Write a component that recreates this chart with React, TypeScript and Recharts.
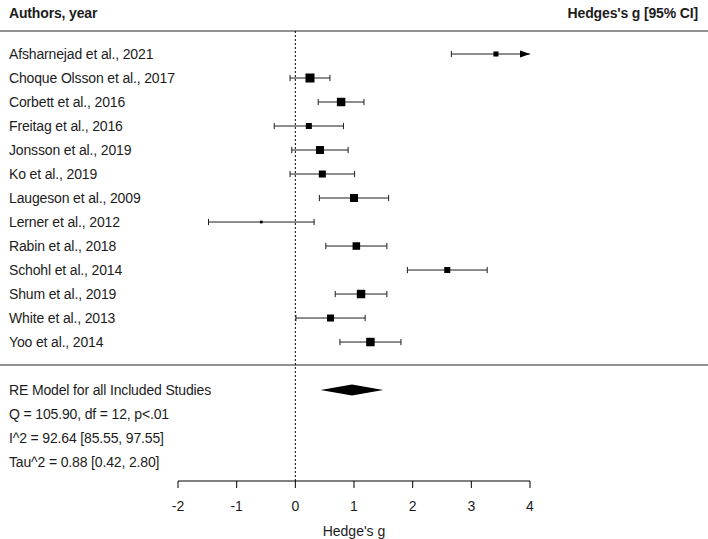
import React from "react"
import { ScatterChart, Scatter, XAxis, YAxis, ReferenceLine, ReferenceArea, ReferenceDot, Label } from "recharts"

const FONT = "'Liberation Sans', Arial, sans-serif"
const INK = "#1c1c1c"

const studies = [
  "Afsharnejad et al., 2021",
  "Choque Olsson et al., 2017",
  "Corbett et al., 2016",
  "Freitag et al., 2016",
  "Jonsson et al., 2019",
  "Ko et al., 2019",
  "Laugeson et al., 2009",
  "Lerner et al., 2012",
  "Rabin et al., 2018",
  "Schohl et al., 2014",
  "Shum et al., 2019",
  "White et al., 2013",
  "Yoo et al., 2014",
]
const estimates = [3.42, 0.25, 0.78, 0.23, 0.42, 0.46, 1.0, -0.58, 1.04, 2.59, 1.12, 0.6, 1.28]
const ciLower = [2.66, -0.09, 0.39, -0.36, -0.06, -0.09, 0.41, -1.48, 0.52, 1.91, 0.68, 0.01, 0.76]
const ciUpper = [4.18, 0.59, 1.17, 0.82, 0.9, 1.01, 1.59, 0.32, 1.56, 3.27, 1.56, 1.19, 1.8]
// relative study weight (square size)
const relWeights = [0.56, 1, 0.94, 0.67, 0.89, 0.78, 0.89, 0.3, 0.84, 0.67, 0.94, 0.78, 0.94]

const pooledEst = 0.96
const pooledLo = 0.43
const pooledHi = 1.5

const footerLines = [
  "RE Model for all Included Studies",
  "Q = 105.90, df = 12, p<.01",
  "I^2 = 92.64 [85.55, 97.55]",
  "Tau^2 = 0.88 [0.42, 2.80]",
]
const xTicks = [-2, -1, 0, 1, 2, 3, 4]
const X_MIN = -2
const X_MAX = 4

const ciText = (e: number, lo: number, hi: number) =>
  `${e.toFixed(2)} [${lo < 0 ? "" : " "}${lo.toFixed(2)}, ${hi.toFixed(2)}]`

const rows = studies.map((name, i) => ({
  name,
  est: estimates[i],
  lo: ciLower[i],
  hi: ciUpper[i],
  w: relWeights[i],
  row: i,
}))
const POOL_ROW = studies.length + 1

const leftLabels: Record<number, string> = {}
rows.forEach((r) => (leftLabels[r.row] = r.name))
footerLines.forEach((t, j) => (leftLabels[POOL_ROW + j] = t))
const rightLabels: Record<number, string> = {}
rows.forEach((r) => (rightLabels[r.row] = ciText(r.est, r.lo, r.hi)))
rightLabels[POOL_ROW] = ciText(pooledEst, pooledLo, pooledHi)

const textStyle = { fontFamily: FONT, fontSize: 14, fill: INK, letterSpacing: -0.15 }

const LeftTick = (p: any) => (
  <text x={9} y={p.y} dy="0.36em" textAnchor="start" {...textStyle}>
    {leftLabels[p.payload.value]}
  </text>
)
const RightTick = (p: any) => (
  <text x={698} y={p.y} dy="0.36em" textAnchor="end" {...textStyle}>
    {rightLabels[p.payload.value]}
  </text>
)

const Square = (p: any) => {
  const s = 9 * p.payload.w
  return <rect x={p.cx - s / 2} y={p.cy - s / 2} width={s} height={s} fill="#000" />
}
const Arrow = (p: any) => (
  <polygon points={`${p.cx - 10},${p.cy - 3.5} ${p.cx},${p.cy} ${p.cx - 10},${p.cy + 3.5}`} fill="#000" />
)
const Diamond = (p: any) => {
  const { x, y, width, height } = p
  return (
    <polygon
      points={`${x},${y + height / 2} ${x + width / 2},${y} ${x + width},${y + height / 2} ${x + width / 2},${y + height}`}
      fill="#000"
    />
  )
}

export default function App() {
  const capH = 0.13
  return (
    <div style={{ position: "absolute", left: 0, top: 0, background: "#fff" }}>
      <ScatterChart width={708} height={539} margin={{ top: 30, right: 0, bottom: 0, left: 0 }}>
        <XAxis
          type="number"
          dataKey="est"
          domain={[X_MIN, X_MAX]}
          ticks={xTicks}
          allowDataOverflow
          stroke="#000"
          tickSize={7}
          tickMargin={13}
          height={58}
          tick={{ fontFamily: FONT, fontSize: 14, fill: INK }}
        >
          <Label value="Hedge's g" position="insideBottom" offset={3} style={{ fontFamily: FONT, fontSize: 14, fill: INK }} />
        </XAxis>
        <YAxis
          type="number"
          dataKey="row"
          domain={[-1, 17.79]}
          reversed
          width={178}
          ticks={Object.keys(leftLabels).map(Number)}
          interval={0}
          axisLine={false}
          tickLine={false}
          tick={<LeftTick />}
        />
        <YAxis
          yAxisId="right"
          orientation="right"
          type="number"
          dataKey="row"
          domain={[-1, 17.79]}
          reversed
          width={178}
          ticks={Object.keys(rightLabels).map(Number)}
          interval={0}
          axisLine={false}
          tickLine={false}
          tick={<RightTick />}
        />

        <ReferenceLine x={0} stroke="#000" strokeDasharray="2 2" />

        {rows.map((r) => (
          <ReferenceLine
            key={"ci" + r.row}
            segment={[{ x: r.lo, y: r.row }, { x: Math.min(r.hi, X_MAX), y: r.row }]}
            stroke={INK}
          />
        ))}
        {rows.map((r) => (
          <ReferenceLine
            key={"lc" + r.row}
            segment={[{ x: r.lo, y: r.row - capH }, { x: r.lo, y: r.row + capH }]}
            stroke={INK}
          />
        ))}
        {rows
          .filter((r) => r.hi <= X_MAX)
          .map((r) => (
            <ReferenceLine
              key={"hc" + r.row}
              segment={[{ x: r.hi, y: r.row - capH }, { x: r.hi, y: r.row + capH }]}
              stroke={INK}
            />
          ))}
        {rows
          .filter((r) => r.hi > X_MAX)
          .map((r) => (
            <ReferenceDot key={"ar" + r.row} x={X_MAX} y={r.row} r={0} shape={<Arrow />} ifOverflow="visible" />
          ))}

        <ReferenceArea
          x1={pooledLo}
          x2={pooledHi}
          y1={POOL_ROW - 0.23}
          y2={POOL_ROW + 0.23}
          shape={<Diamond />}
        />

        <Scatter data={rows} shape={<Square />} isAnimationActive={false} />

        <line x1={0} x2={708} y1={31} y2={31} stroke="#6e6e6e" strokeWidth={1.5} />
        <line x1={0} x2={708} y1={365} y2={365} stroke="#6e6e6e" strokeWidth={1.5} />
        <text x={9} y={13} dy="0.36em" fontWeight="bold" {...textStyle}>
          Authors, year
        </text>
        <text x={698} y={13} dy="0.36em" textAnchor="end" fontWeight="bold" {...textStyle}>
          Hedges's g [95% CI]
        </text>
      </ScatterChart>
    </div>
  )
}
